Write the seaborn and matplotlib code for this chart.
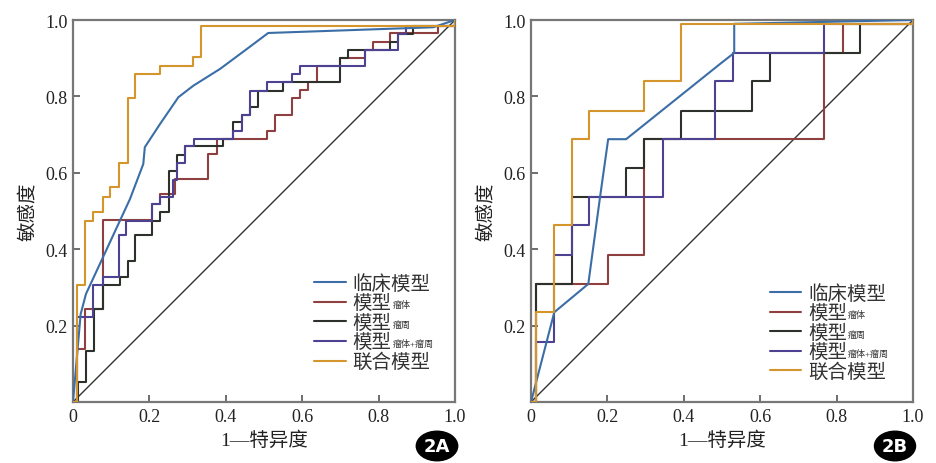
import matplotlib
matplotlib.use('Agg')
import matplotlib.pyplot as plt
import seaborn as sns
from matplotlib.lines import Line2D

# ---- data (fpr = 1-特异度, tpr = 敏感度) ----
# panel 2A: step curves given as (fpr where it rises, new tpr)
a_tumor_x = [0, 0.01, 0.031, 0.078, 0.206, 0.228, 0.267, 0.353, 0.376, 0.507, 0.529, 0.572, 0.594, 0.616, 0.638, 0.699, 0.764, 0.786, 0.83, 0.956, 1.0]
a_tumor_y = [0, 0.14, 0.243, 0.477, 0.518, 0.545, 0.584, 0.649, 0.688, 0.710, 0.751, 0.795, 0.817, 0.837, 0.879, 0.9, 0.922, 0.943, 0.966, 0.985, 1.0]
a_peri_x = [0, 0.014, 0.034, 0.056, 0.078, 0.123, 0.145, 0.162, 0.206, 0.228, 0.25, 0.271, 0.294, 0.392, 0.42, 0.442, 0.463, 0.485, 0.55, 0.699, 0.721, 0.83, 0.852, 0.89, 1.0]
a_peri_y = [0, 0.052, 0.134, 0.243, 0.306, 0.326, 0.370, 0.437, 0.475, 0.498, 0.606, 0.647, 0.67, 0.689, 0.732, 0.751, 0.771, 0.815, 0.837, 0.9, 0.922, 0.943, 0.963, 0.985, 1.0]
a_both_x = [0, 0.01, 0.053, 0.078, 0.121, 0.14, 0.206, 0.228, 0.262, 0.271, 0.294, 0.316, 0.42, 0.442, 0.463, 0.507, 0.572, 0.594, 0.764, 0.852, 0.873, 1.0]
a_both_y = [0, 0.222, 0.305, 0.326, 0.437, 0.475, 0.518, 0.536, 0.582, 0.626, 0.67, 0.689, 0.71, 0.751, 0.815, 0.837, 0.859, 0.879, 0.922, 0.963, 0.985, 1.0]
a_comb_x = [0, 0.01, 0.031, 0.053, 0.079, 0.097, 0.121, 0.143, 0.162, 0.228, 0.313, 0.334, 1.0]
a_comb_y = [0, 0.305, 0.475, 0.497, 0.536, 0.562, 0.626, 0.795, 0.859, 0.879, 0.902, 0.985, 1.0]
# clinical model is a polyline
a_clin_x = [0, 0.02, 0.034, 0.149, 0.184, 0.188, 0.228, 0.276, 0.315, 0.385, 0.455, 0.511, 0.943, 1.0]
a_clin_y = [0, 0.23, 0.283, 0.531, 0.623, 0.667, 0.728, 0.798, 0.828, 0.872, 0.924, 0.966, 0.981, 1.0]

# panel 2B
b_tumor_x = [0, 0.013, 0.202, 0.296, 0.767, 0.816, 1.0]
b_tumor_y = [0, 0.309, 0.385, 0.688, 0.914, 0.99, 1.0]
b_peri_x = [0, 0.013, 0.108, 0.249, 0.296, 0.392, 0.578, 0.626, 0.861, 1.0]
b_peri_y = [0, 0.309, 0.536, 0.612, 0.688, 0.763, 0.841, 0.914, 0.99, 1.0]
b_both_x = [0, 0.013, 0.061, 0.108, 0.153, 0.345, 0.482, 0.53, 0.767, 1.0]
b_both_y = [0, 0.158, 0.385, 0.463, 0.536, 0.688, 0.841, 0.914, 0.99, 1.0]
b_comb_x = [0, 0.013, 0.061, 0.108, 0.153, 0.296, 0.392, 1.0]
b_comb_y = [0, 0.235, 0.463, 0.688, 0.763, 0.841, 0.99, 1.0]
b_clin_x = [0, 0.061, 0.15, 0.18, 0.202, 0.249, 0.495, 0.532, 0.532, 1.0]
b_clin_y = [0, 0.235, 0.309, 0.531, 0.688, 0.688, 0.885, 0.914, 0.99, 1.0]

labels = ['临床模型', '模型', '模型', '模型', '联合模型']
subs = ['', '瘤体', '瘤周', '瘤体+瘤周', '']
colors = ['#3b6ea6', '#8e4040', '#2c312c', '#4d4192', '#d4962c']
ticks = [0, 0.2, 0.4, 0.6, 0.8, 1.0]
tick_text = ['0', '0.2', '0.4', '0.6', '0.8', '1.0']

sns.set_style('ticks')
plt.rcParams['font.family'] = ['Liberation Serif', 'Noto Sans CJK SC']
plt.rcParams['axes.unicode_minus'] = False

fig = plt.figure(figsize=(9.36, 4.64), dpi=100)
ax1 = fig.add_axes([73 / 936, 61 / 464, 382 / 936, 382 / 464])
ax2 = fig.add_axes([531 / 936, 61 / 464, 382 / 936, 382 / 464])

panels = [
    (ax1, a_clin_x, a_clin_y, [(a_tumor_x, a_tumor_y), (a_peri_x, a_peri_y), (a_both_x, a_both_y), (a_comb_x, a_comb_y)], (0.632, 0.335)),
    (ax2, b_clin_x, b_clin_y, [(b_tumor_x, b_tumor_y), (b_peri_x, b_peri_y), (b_both_x, b_both_y), (b_comb_x, b_comb_y)], (0.626, 0.309)),
]

legends = []
for ax, cx, cy, steps, anchor in panels:
    ax.plot([0, 1], [0, 1], color='#333333', lw=1.0, zorder=1)
    for (sx, sy), col in zip(steps[:3], colors[1:4]):
        sns.lineplot(x=sx, y=sy, ax=ax, color=col, lw=1.5, sort=False, estimator=None,
                     drawstyle='steps-post', zorder=2)
    sns.lineplot(x=cx, y=cy, ax=ax, color=colors[0], lw=1.5, sort=False, estimator=None, zorder=3)
    sns.lineplot(x=steps[3][0], y=steps[3][1], ax=ax, color=colors[4], lw=1.5, sort=False,
                 estimator=None, drawstyle='steps-post', zorder=4)
    ax.set_xlim(0, 1)
    ax.set_ylim(0, 1)
    ax.set_xticks(ticks)
    ax.set_xticklabels(tick_text)
    ax.set_yticks(ticks[1:])
    ax.set_yticklabels(tick_text[1:])
    ax.tick_params(direction='in', length=5, width=1.2, color='#555555', labelsize=13,
                   labelcolor='#222222', pad=4)
    for s in ax.spines.values():
        s.set_color('#777777')
        s.set_linewidth(1.6)
    ax.set_xlabel('1—特异度', fontsize=14, color='#222222', labelpad=4)
    ax.set_ylabel('敏感度', fontsize=14, color='#222222', labelpad=6)
    handles = [Line2D([], [], color=c, lw=1.5) for c in colors]
    leg = ax.legend(handles, labels, loc='upper left', bbox_to_anchor=anchor, frameon=False,
                    fontsize=14, handlelength=1.6, handletextpad=0.35, labelspacing=0.07,
                    borderpad=0, borderaxespad=0)
    for t in leg.get_texts():
        t.set_color('#333333')
    legends.append(leg)

# subscripts next to the legend labels
fig.canvas.draw()
inv = fig.transFigure.inverted()
for leg in legends:
    for t, sub in zip(leg.get_texts(), subs):
        if not sub:
            continue
        bb = t.get_window_extent()
        x0, y0 = inv.transform((bb.x1 + 1, bb.y0 + 3))
        fig.text(x0, y0, sub, fontsize=6.5, color='#333333', ha='left', va='bottom')

for px, txt in [(437, '2A'), (895, '2B')]:
    fig.text(px / 936, 1 - 447 / 464, txt, fontsize=13, fontweight='bold', color='white',
             family='DejaVu Sans', ha='center', va='center',
             bbox=dict(boxstyle='ellipse,pad=0.08', fc='black', ec='black'))

fig.savefig('out.png', dpi=100)
